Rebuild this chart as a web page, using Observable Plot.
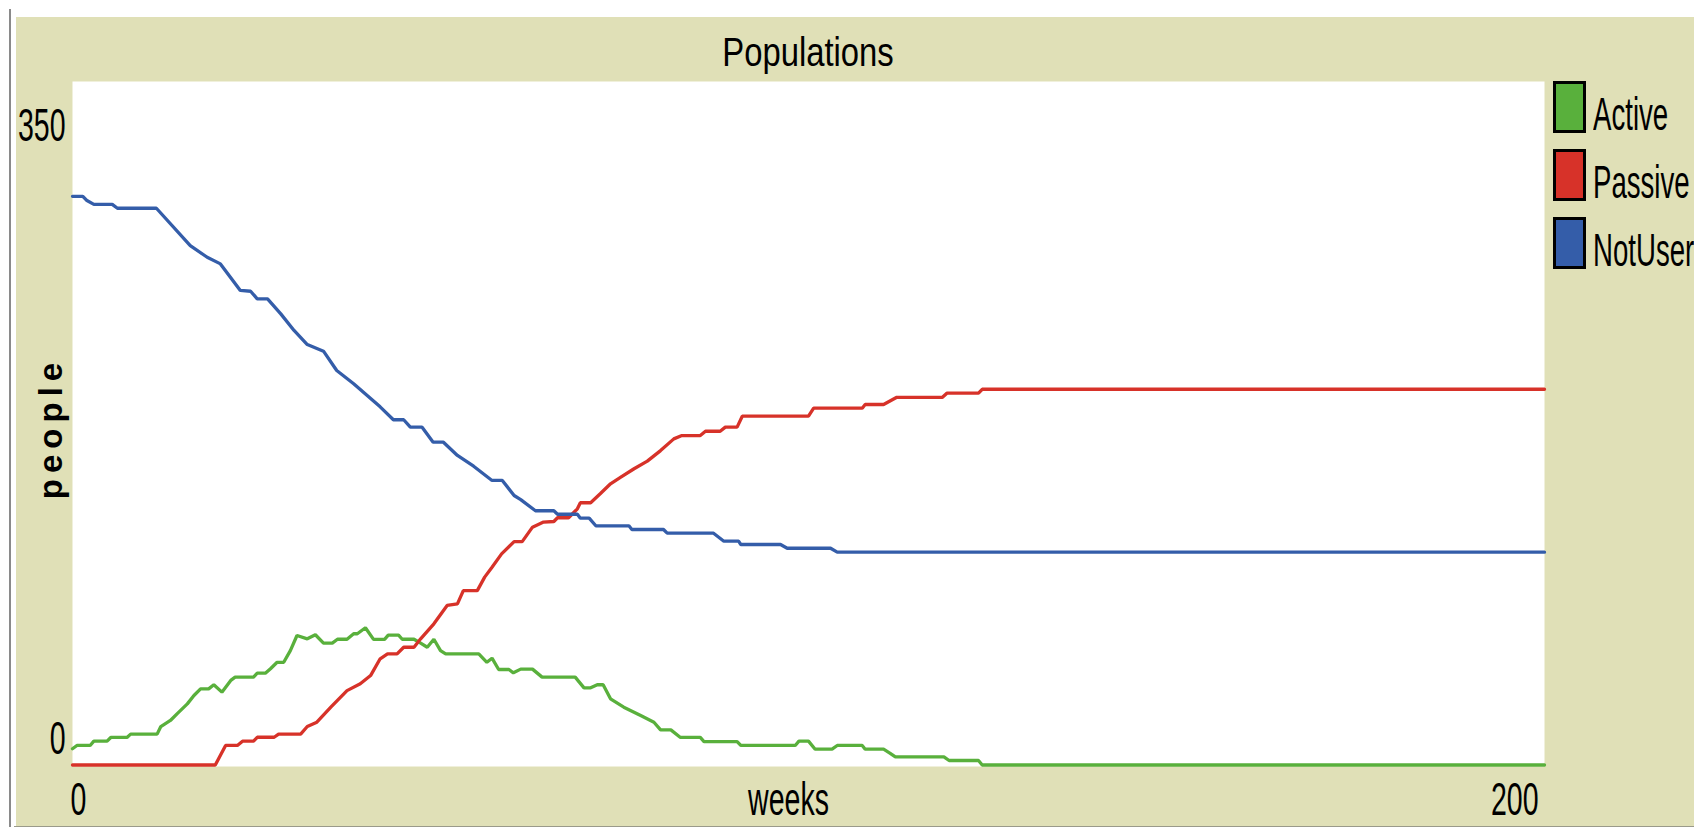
<!DOCTYPE html>
<html><head><meta charset="utf-8">
<script src="https://cdn.jsdelivr.net/npm/d3@7"></script>
<script src="https://cdn.jsdelivr.net/npm/@observablehq/plot@0.6"></script>
<style>
html,body{margin:0;padding:0;background:#fff;}
#wrap{position:relative;width:1694px;height:827px;overflow:hidden;font-family:"Liberation Sans",Arial,sans-serif;}
#bg{position:absolute;left:16px;top:17px;width:1678px;height:809px;background:#E0E0B7;}
#vline{position:absolute;left:9px;top:9px;width:2px;height:818px;background:#8a8a8a;}
#hline{position:absolute;left:14px;top:826px;width:1680px;height:1px;background:#9a9a8a;}
#chart{position:absolute;left:0;top:0;}
.t{position:absolute;white-space:nowrap;color:#000;line-height:1;}
.sw{position:absolute;left:1553px;width:33px;height:52px;box-sizing:border-box;border:3px solid #000;}
</style></head>
<body>
<div id="wrap">
  <div id="bg"></div>
  <div id="vline"></div>
  <div id="hline"></div>
  <div id="chart"></div>
  <div class="t" id="title" style="left:808px;top:32px;font-size:40px;transform:translateX(-50%) scaleX(0.82);transform-origin:center;">Populations</div>
  <div class="t" id="ylab" style="left:49.6px;top:428px;font-size:33px;font-weight:bold;letter-spacing:6px;transform:translate(-50%,-50%) rotate(-90deg);transform-origin:center;">people</div>
  <div id="legend"></div>
</div>
<script>
const seriesNames = ["Active", "Passive", "NotUser"];
const seriesColors = ["#59B03C", "#D73229", "#345DA9"];

const activeWeeks = [0,0.6,2.4,2.9,4.7,5.2,7.4,7.9,11.5,12.0,13.3,14.2,15.6,16.5,17.4,18.5,19.2,20.3,21.5,22.1,24.6,25.1,26.2,26.9,27.8,28.7,29.6,30.5,31.9,33.0,34.1,35.3,36.0,37.3,38.2,38.7,39.8,40.9,42.4,42.9,44.3,44.8,46.4,47.3,48.2,49.1,50.0,50.7,55.2,56.3,57.0,57.9,59.3,59.9,60.9,62.5,63.8,68.3,69.5,70.4,71.3,72.1,73.1,74.9,77.2,79.0,79.9,81.3,82.6,85.3,85.8,90.3,90.8,98.2,98.7,100.0,100.9,103.2,103.9,107.3,107.7,110.2,111.1,111.8,118.4,119.1,123.1,123.6,200];
const activeValues = [8.3,10,10,12.2,12.2,14.1,14.1,15.8,15.8,19.7,22.8,26.2,31.3,35.6,39.0,39.0,41.1,37.3,43.3,45.0,45.0,47.0,47.0,49.3,52.6,52.6,58.6,66.3,64.6,66.7,62.4,62.4,64.4,64.4,67.2,67.2,70.3,64.3,64.3,66.5,66.5,64.4,64.4,62.4,60.3,64.4,58.6,56.9,56.9,52.6,54.7,48.9,48.9,47.2,49.1,49.1,45.0,45.0,39.5,39.5,41.1,41.1,33.9,29.6,25.3,21.9,18.0,18.0,14.1,14.1,12.0,12.0,10.0,10.0,12.2,12.2,8.1,8.1,10.0,10.0,8.1,8.1,6.0,4.2,4.2,2.3,2.3,0,0];

const passiveWeeks = [0,19.4,20.8,22.4,23.1,24.6,25.1,27.4,28.0,31.0,31.9,33.2,35.1,37.3,39.1,40.5,41.8,42.8,44.1,45.0,46.4,47.3,49.1,50.9,52.3,53.1,55.0,56.0,57.0,58.3,60.0,61.1,62.5,64.0,65.4,65.9,67.4,68.6,69.0,70.4,71.7,73.1,74.5,76.3,78.1,79.9,81.7,82.8,85.3,86.0,88.0,88.7,90.3,91.0,100.0,100.7,107.3,107.7,110.2,112.0,118.2,118.8,123.1,123.6,200];
const passiveValues = [0,0,10,10,12.2,12.2,14.2,14.2,15.8,15.8,19.7,21.9,29.6,38.1,41.6,45.8,54.4,56.9,56.9,60.3,60.3,64.6,72.3,81.7,82.5,89.3,89.3,96.2,101.3,108.1,114.4,114.4,121.8,124.4,124.7,126.6,126.6,131.2,134.3,134.3,138.9,144.0,147.4,151.7,155.6,161.0,167.0,168.7,168.7,170.9,170.9,173.0,173.0,178.6,178.6,182.7,182.7,184.6,184.6,188.3,188.3,190.4,190.4,192.4,192.4];

const notUserWeeks = [0,1.4,1.9,2.9,5.4,6.1,11.4,16.0,18.3,20.1,22.8,24.2,25.1,26.5,28.3,30.1,31.9,34.1,35.9,38.2,41.8,43.6,45.0,45.9,47.5,49.0,50.4,52.3,54.5,57.0,58.4,60.0,60.9,62.9,65.4,65.9,68.6,69.0,70.2,71.1,75.6,76.0,80.3,80.8,87.1,88.5,90.5,90.8,96.2,97.1,103.0,103.9,200];
const notUserValues = [291.2,291.2,289.2,287.1,287.1,285.1,285.1,266.0,260.0,256.6,243.0,242.6,238.7,238.7,231.0,222.5,215.3,211.9,202.0,195.2,183.4,176.8,176.8,173.0,173.0,165.3,165.3,158.5,153.0,145.7,145.7,138.0,135.9,130.2,130.2,128.4,128.4,126.4,126.4,122.5,122.5,120.6,120.6,118.7,118.7,114.6,114.6,112.9,112.9,111.0,111.0,109.0,109.0];

const xTicks = [0, 200];
const yTicks = [0, 350];
const xLabel = "weeks";

const toRows = (weeks, values) => weeks.map((w, i) => ({week: w, value: values[i]}));
const active = toRows(activeWeeks, activeValues);
const passive = toRows(passiveWeeks, passiveValues);
const notUser = toRows(notUserWeeks, notUserValues);

const FS = 46;
const plot = Plot.plot({
  width: 1694, height: 827,
  marginLeft: 72, marginRight: 150, marginTop: 81, marginBottom: 61,
  style: {background: "transparent", fontFamily: "'Liberation Sans', Arial, sans-serif", overflow: "visible", color: "#000"},
  x: {domain: [0, 200], axis: null, label: null},
  y: {domain: [0, 350], range: [764.5, 81], axis: null, label: null},
  marks: [
    Plot.frame({fill: "white", stroke: "none"}),
    Plot.line(active, {x: "week", y: "value", stroke: seriesColors[0], strokeWidth: 3.3, strokeLinejoin: "miter"}),
    Plot.line(passive, {x: "week", y: "value", stroke: seriesColors[1], strokeWidth: 3.3, strokeLinejoin: "miter"}),
    Plot.line(notUser, {x: "week", y: "value", stroke: seriesColors[2], strokeWidth: 3.3, strokeLinejoin: "miter"}),
    Plot.axisX([xTicks[0]], {anchor: "bottom", label: null, tickSize: 0, tickPadding: 0, textAnchor: "start", fontSize: FS, dx: -2, dy: 16}),
    Plot.axisX([xTicks[1]], {anchor: "bottom", label: null, tickSize: 0, tickPadding: 0, textAnchor: "end", fontSize: FS, dx: -6, dy: 16}),
    Plot.axisY([yTicks[0]], {anchor: "left", label: null, tickSize: 0, tickPadding: 0, fontSize: FS, dx: -7, dy: -25.7}),
    Plot.axisY([yTicks[1]], {anchor: "left", label: null, tickSize: 0, tickPadding: 0, fontSize: FS, dx: -7, dy: 44.3}),
    Plot.text([xLabel], {frameAnchor: "bottom", lineAnchor: "top", fontSize: FS, dx: -20, dy: 16})
  ]
});
for (const t of plot.querySelectorAll("text")) {
  const tr = t.getAttribute("transform") || "";
  t.setAttribute("transform", tr + " scale(0.62,1)");
}
document.getElementById("chart").appendChild(plot);

const legend = document.getElementById("legend");
const tops = [81, 149, 217];
seriesNames.forEach((name, i) => {
  const sw = document.createElement("div");
  sw.className = "sw";
  sw.style.top = tops[i] + "px";
  sw.style.background = seriesColors[i];
  legend.appendChild(sw);
  const tx = document.createElement("div");
  tx.className = "t";
  tx.textContent = name;
  tx.style.left = "1593px";
  tx.style.top = (tops[i] + 10) + "px";
  tx.style.fontSize = "46px";
  tx.style.transform = "scaleX(0.6)";
  tx.style.transformOrigin = "left top";
  legend.appendChild(tx);
});
</script>
</body></html>
